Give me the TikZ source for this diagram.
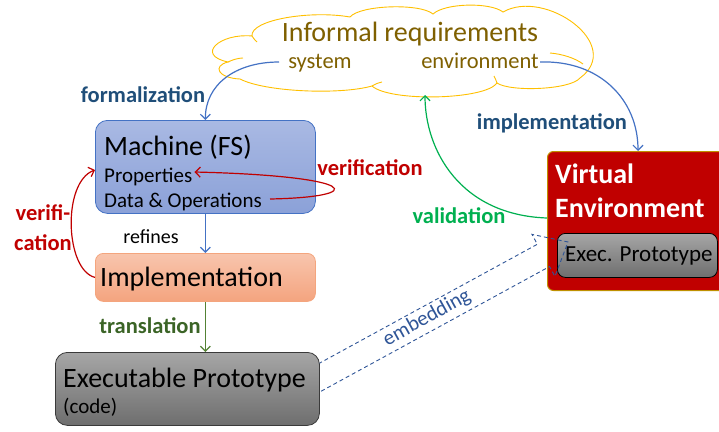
\documentclass[tikz,border=0pt]{standalone}
\usepackage{fontspec}
\setmainfont{Carlito}
\usetikzlibrary{arrows.meta,calc}
\definecolor{cloudline}{HTML}{FFC000}
\definecolor{cloudtext}{HTML}{7F6000}
\definecolor{linkblue}{HTML}{4472C4}
\definecolor{labelblue}{HTML}{1F4E79}
\definecolor{vred}{HTML}{C00000}
\definecolor{vgreen}{HTML}{00B050}
\definecolor{tgreen}{HTML}{548235}
\definecolor{tlabel}{HTML}{3B6426}
\definecolor{embblue}{HTML}{2F5597}
\definecolor{vgold}{HTML}{BF9000}
\definecolor{machtop}{HTML}{A9B9E3}
\definecolor{machbot}{HTML}{8BA1D8}
\definecolor{impltop}{HTML}{F8C5AD}
\definecolor{implbot}{HTML}{F4A47F}
\definecolor{impledge}{HTML}{F4A57E}
\definecolor{graytop}{HTML}{A6A6A6}
\definecolor{graybot}{HTML}{6E6E6E}
\definecolor{grayedge}{HTML}{3A3A3A}
\tikzset{
  tip/.style={-{Straight Barb[length=5pt,width=10pt]}},
  conn/.style={line width=1.2pt,tip},
  lbl/.style={font=\fontsize{22.5}{24}\selectfont\bfseries,inner sep=0pt},
  bigtxt/.style={font=\fontsize{28}{30}\selectfont,anchor=base west,inner sep=0pt},
  smalltxt/.style={font=\fontsize{21}{23}\selectfont,anchor=base west,inner sep=0pt},
  boxnode/.style={draw,line width=0.8pt,inner sep=0pt,anchor=north west},
  cloudtxt/.style={text=cloudtext,anchor=base,inner sep=0pt}
}
\begin{document}
\begin{tikzpicture}[x=1pt,y=-1pt]
\useasboundingbox (0,0) rectangle (719,431);

% requirements cloud, drawn lobe by lobe
\draw[cloudline,fill=white,line width=0.9pt]
  (252,36) .. controls (250,20) and (310,10) .. (350,17)
  .. controls (360,5) and (420,3) .. (433,14)
  .. controls (445,3) and (490,2) .. (503,12)
  .. controls (545,-12) and (625,45) .. (580,78)
  .. controls (570,90) and (510,92) .. (497,83)
  .. controls (485,100) and (390,102) .. (372,86)
  .. controls (340,95) and (265,92) .. (240,79)
  .. controls (218,78) and (212,66) .. (228,62)
  .. controls (195,55) and (220,33) .. cycle;
% inner lobe folds
\draw[cloudline,line width=0.9pt] (228,62) .. controls (232,60) and (238,58) .. (243,58);
\draw[cloudline,line width=0.9pt] (252,36) .. controls (253,38) and (255,40) .. (257,42);
\draw[cloudline,line width=0.9pt] (550,53) .. controls (562,54) and (575,58) .. (583,64);
\draw[cloudline,line width=0.9pt] (372,86) .. controls (375,84) and (378,83) .. (382,82);
\draw[cloudline,line width=0.9pt] (497,83) .. controls (496,80) and (495,78) .. (494,76);

\node[font=\fontsize{28}{30}\selectfont,cloudtxt] (req) at (410,41) {Informal requirements};
\node[font=\fontsize{22.5}{24}\selectfont,cloudtxt] (sys) at (320,68) {system};
\node[font=\fontsize{22.5}{24}\selectfont,cloudtxt] (env) at (480,68) {environment};
\coordinate (sysL) at (279,62);
\coordinate (envR) at (540,62);
\coordinate (clB) at (425,95);

% machine
\node[boxnode,draw=linkblue,top color=machtop,bottom color=machbot,rounded corners=12pt,
      minimum width=220pt,minimum height=93pt] (mach) at (95,120) {};
\node[bigtxt] (machT) at (104,155) {Machine (FS)};
\node[smalltxt] (prop) at (104,182) {Properties};
\node[smalltxt] (dops) at (104,207) {Data \& Operations};

% implementation
\node[boxnode,draw=impledge,top color=impltop,bottom color=implbot,rounded corners=8pt,
      minimum width=220pt,minimum height=48pt] (impl) at (95,253) {};
\node[bigtxt] (implT) at (100,286) {Implementation};

% virtual environment
\node[boxnode,draw=vgold,fill=vred,rounded corners=6pt,line width=1pt,
      minimum width=185pt,minimum height=139pt] (venv) at (547,151) {};
\node[bigtxt,font=\fontsize{28}{30}\selectfont\bfseries,text=white] (vT1) at (555,183) {Virtual};
\node[bigtxt,font=\fontsize{28}{30}\selectfont\bfseries,text=white] (vT2) at (555,217) {Environment};
\node[boxnode,draw=black,top color=graytop,bottom color=graybot,rounded corners=8pt,
      minimum width=160pt,minimum height=44pt] (ep) at (557,233) {};
\node[smalltxt,font=\fontsize{23}{25}\selectfont] (epT) at (565,261) {Exec. Prototype};

% embedding: dashed block arrow
\coordinate (embE) at (568,242);
\coordinate (embT) at (306,385);
\coordinate (embB) at ($(embE)!28pt!(embT)$);
\draw[embblue,line width=0.9pt,dash pattern=on 4pt off 3pt]
  ($(embT)!12.7pt!90:(embE)$) -- ($(embB)!12.7pt!90:(embE)$) -- ($(embB)!24pt!90:(embE)$)
  -- (embE) -- ($(embB)!24pt!-90:(embE)$) -- ($(embB)!12.7pt!-90:(embE)$)
  -- ($(embT)!12.7pt!-90:(embE)$) -- cycle;
\node[font=\fontsize{21}{23}\selectfont,text=embblue,rotate=29,inner sep=0pt] (embL) at (427,318) {embedding};

% executable prototype
\node[boxnode,draw=grayedge,top color=graytop,bottom color=graybot,rounded corners=12pt,
      minimum width=264pt,minimum height=73pt] (exe) at (55,352) {};
\node[bigtxt] (exeT) at (63,387) {Executable Prototype};
\node[smalltxt] (exeC) at (63,413) {(code)};

% connectors
\draw[conn,linkblue] (sysL) .. controls (235,62) and (205,85) .. (mach.north);
\draw[conn,linkblue] (mach.south) -- (impl.north);
\draw[conn,tgreen] (impl.south) -- (exe.north -| impl.south);
\draw[conn,linkblue] (envR) .. controls (600,60) and (638,100) .. ($(venv.north west)+(91,0)$);
\draw[conn,vgreen] ($(venv.north west)+(0,67)$) .. controls (460,215) and (425,150) .. (clB);
\draw[conn,vred] (impl.west) .. controls (65,270) and (62,182) .. ($(mach.north west)+(0,50)$);
\draw[conn,vred] ($(dops.base east)+(8,-8)$) .. controls (370,197) and (360,176) .. ($(prop.base east)+(2,-10)$);

% labels
\node[lbl,text=labelblue] (fL) at (143,95) {formalization};
\node[lbl,text=labelblue] (iL) at (552,123) {implementation};
\node[lbl,text=vred] (vL) at (370,168) {verification};
\node[lbl,text=vred] (vL1) at (43,213) {verifi-};
\node[lbl,text=vred] (vL2) at (43,243) {cation};
\node[lbl,text=vgreen] (valL) at (459,216) {validation};
\node[lbl,text=tlabel] (tL) at (150,326) {translation};
\node[font=\fontsize{20}{22}\selectfont,inner sep=0pt] (rL) at (151,237) {refines};
\end{tikzpicture}
\end{document}
